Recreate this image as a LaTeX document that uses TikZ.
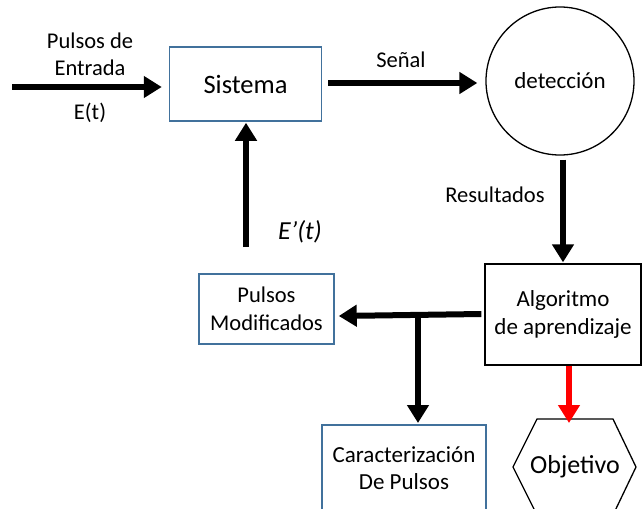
\documentclass[tikz,border=0pt]{standalone}
\usepackage{fontspec}
\setmainfont{Carlito}
\usetikzlibrary{arrows.meta}
\definecolor{boxblue}{RGB}{65,113,156}
\definecolor{redarrow}{RGB}{255,0,0}
\tikzset{
  bluebox/.style={draw=boxblue, line width=1.5pt, fill=white, rectangle, align=center, inner sep=0pt},
  blackbox/.style={draw=black, line width=1.3pt, fill=white, rectangle, align=center, inner sep=0pt},
  bigarrow/.style={line width=6pt, -{Triangle[width=21pt,length=18pt]}},
  lbl/.style={align=center, inner sep=0pt, font=\fontsize{22.5}{27}\selectfont}
}
\begin{document}
\begin{tikzpicture}[x=1pt,y=-1pt]
\useasboundingbox (0,0) rectangle (643,509);
\clip (0,0) rectangle (643,509);
% nodes
\node[bluebox, minimum width=152pt, minimum height=74pt, font=\fontsize{26.5}{30}\selectfont] (sis) at (245.5,84) {Sistema};
\node[draw=black, line width=1.3pt, circle, minimum size=148pt, inner sep=0pt, font=\fontsize{23}{28}\selectfont] (det) at (560,81) {detección};
\node[blackbox, minimum width=156pt, minimum height=101pt, font=\fontsize{23}{28}\selectfont] (alg) at (563,314.5) {Algoritmo\\de aprendizaje};
\node[bluebox, minimum width=135pt, minimum height=70pt, font=\fontsize{22.5}{28}\selectfont] (pm) at (266.5,309) {Pulsos\\Modificados};
\node[bluebox, minimum width=164pt, minimum height=122pt, anchor=north] (car) at (404,424) {};
\node[lbl, font=\fontsize{23}{27}\selectfont] (cartext) at (404,468) {Caracterización\\De Pulsos};
% hexagon
\coordinate (h1) at (537,419);
\coordinate (h2) at (613,419);
\coordinate (h3) at (636,467);
\coordinate (h4) at (613,515);
\coordinate (h5) at (537,515);
\coordinate (h6) at (513,467);
\draw[line width=1.3pt, fill=white] (h1) -- (h2) -- (h3) -- (h4) -- (h5) -- (h6) -- cycle;
\node[inner sep=0pt, font=\fontsize{26}{30}\selectfont] (obj) at (575,467) {Objetivo};
% labels
\node[lbl] (pe) at (90,54) {Pulsos de\\Entrada};
\node[lbl] (et) at (90,113) {E(t)};
\node[lbl] (sen) at (401,60) {Señal};
\node[lbl] (res) at (495,195) {Resultados};
\node[inner sep=0pt, font=\fontsize{26}{30}\selectfont\itshape] (ep) at (300,232) {E’(t)};
% coordinates
\coordinate (in) at (12,87);
\coordinate (fb) at (246,247);
\coordinate (br) at (418,315.5);
% connectors
\draw[bigarrow] (in) -- ([xshift=-7pt]in -| sis.west);
\draw[bigarrow] ([xshift=6pt]sis.east |- 0,83) -- ([xshift=-8pt]det.west |- 0,83);
\draw[bigarrow] ([yshift=-4pt]det.south -| 563,0) -- ([yshift=1pt]alg.north -| 563,0);
\draw[bigarrow] ([xshift=-3pt]alg.west |- 0,314) -- ([xshift=4pt]pm.east |- 0,316);
\draw[bigarrow] (br) -- ([yshift=1pt]car.north -| br);
\draw[bigarrow, draw=redarrow, fill=redarrow] (alg.south -| 569,0) -- (569,423);
\draw[bigarrow] (fb) -- ([yshift=-1pt]sis.south -| fb);
\end{tikzpicture}
\end{document}
